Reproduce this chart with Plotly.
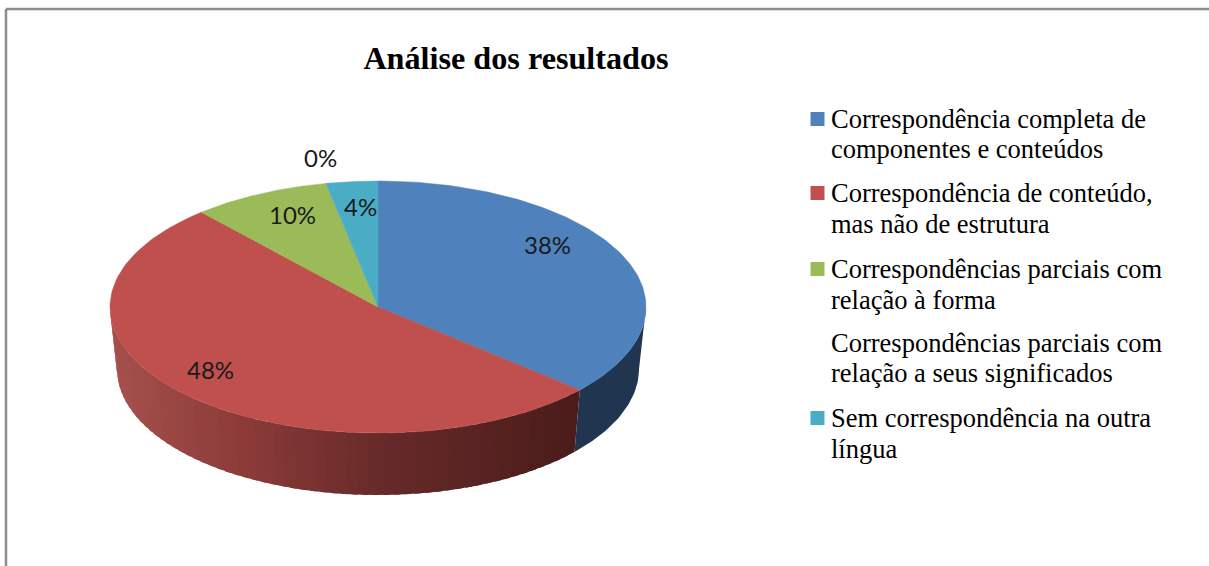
import numpy as np
import plotly.graph_objects as go

title = "Análise dos resultados"
categories = [
    "Correspondência completa de<br>componentes e conteúdos",
    "Correspondência de conteúdo,<br>mas não de estrutura",
    "Correspondências parciais com<br>relação à forma",
    "Correspondências parciais com<br>relação a seus significados",
    "Sem correspondência na outra<br>língua",
]
values = [38.4, 48.2, 9.7, 0, 3.7]
colors = ["#4F81BD", "#C0504D", "#9BBB59", "rgba(0,0,0,0)", "#4BACC6"]

# projection of the tilted pie on the page (pixels)
W, H = 1209, 566
CX, CY, RX, RY = 378, 307, 268, 126
BCY, BRX, BRY = 369, 261, 126
PERSPECTIVE = 0.84
label_xy = [(547, 244), (210, 369), (292, 214), (320, 157), (360, 206)]
legend_marker_x = 817.5
legend_text_x = 829
legend_rows = [(119, 149), (193, 224), (269, 300), (343, 373), (418, 449)]


def warp(share):
    half = np.asarray(share) * np.pi / 100
    return 2 * np.arctan2(PERSPECTIVE * np.sin(half), np.cos(half))


def top_pt(phi):
    return CX + RX * np.sin(phi), CY - RY * np.cos(phi)


def bottom_pt(phi):
    return CX + BRX * np.sin(phi), BCY - BRY * np.cos(phi)


def wall_colour(x, slice_idx):
    if slice_idx == 0:
        return "#1F3550"
    stops_x = [117, 250, 378, 573]
    r = np.interp(x, stops_x, [165, 138, 102, 74])
    g = np.interp(x, stops_x, [80, 58, 42, 28])
    b = np.interp(x, stops_x, [76, 56, 41, 26])
    return f"rgb({r:.0f},{g:.0f},{b:.0f})"


fig = go.Figure()
cum = np.concatenate([[0], np.cumsum(values)])
edges = warp(cum)

# side wall (front half only); each band overlaps its neighbour to hide seams
bands = np.linspace(edges[1], 3 * np.pi / 2, 61)
for a0, a1 in zip(bands[:-1], bands[1:]):
    a_end = min(a1 + (a1 - a0) * 0.6, 3 * np.pi / 2)
    phi = np.linspace(a0, a_end, 6)
    tx, ty = top_pt(phi)
    bx, by = bottom_pt(phi)
    col = wall_colour(bx.mean(), 1)
    fig.add_trace(go.Scatter(
        x=np.r_[tx, bx[::-1], tx[0]], y=np.r_[ty, by[::-1], ty[0]],
        mode="lines", fill="toself", fillcolor=col,
        line=dict(color=col, width=0), hoverinfo="skip", showlegend=False))

# the blue wall runs from the rim's right end to the slice edge
phi = np.linspace(np.pi / 2, edges[1], 40)
tx, ty = top_pt(phi)
bx, by = bottom_pt(phi)
fig.add_trace(go.Scatter(
    x=np.r_[tx, bx[::-1], tx[0]], y=np.r_[ty, by[::-1], ty[0]],
    mode="lines", fill="toself", fillcolor=wall_colour(0, 0),
    line=dict(color=wall_colour(0, 0), width=0), hoverinfo="skip", showlegend=False))

# top face slices
for i, v in enumerate(values):
    if v == 0:
        continue
    phi = np.linspace(edges[i], edges[i + 1], 120)
    ex, ey = top_pt(phi)
    fig.add_trace(go.Scatter(
        x=np.r_[CX, ex, CX], y=np.r_[CY, ey, CY],
        mode="lines", fill="toself", fillcolor=colors[i],
        line=dict(color=colors[i], width=0.5),
        name=categories[i].replace("<br>", " "), text=f"{round(v)}%", hoverinfo="name+text",
        showlegend=False))

# legend keys
fig.add_trace(go.Scatter(
    x=[legend_marker_x] * len(categories), y=[r[0] for r in legend_rows],
    mode="markers", marker=dict(symbol="square", size=14, color=colors),
    hoverinfo="skip", showlegend=False))

annotations = [
    dict(x=px, y=py, text=f"{round(v)}%", showarrow=False, xref="x", yref="y",
         font=dict(family="Lato, Carlito, sans-serif", size=24, color="#1a1a1a"))
    for v, (px, py) in zip(values, label_xy)
]
for name, rows in zip(categories, legend_rows):
    for line, y in zip(name.split("<br>"), rows):
        annotations.append(dict(
            x=legend_text_x, y=y, text=line, showarrow=False, xref="x", yref="y",
            xanchor="left", yanchor="middle",
            font=dict(family="Liberation Serif", size=26.5, color="#000000")))

frame = dict(type="line", xref="x", yref="y", line=dict(color="#8C8C8C", width=2.5))
fig.update_layout(
    width=W, height=H, autosize=False,
    margin=dict(l=0, r=0, t=0, b=0),
    paper_bgcolor="white", plot_bgcolor="white",
    title=dict(text=f"<b>{title}</b>", x=516 / W, xanchor="center", y=1 - 58 / H, yanchor="middle",
               font=dict(family="Liberation Serif", size=32.2, color="#000000")),
    xaxis=dict(range=[0, W], visible=False, fixedrange=True),
    yaxis=dict(range=[H, 0], visible=False, fixedrange=True),
    shapes=[dict(frame, x0=6, y0=9, x1=W, y1=9), dict(frame, x0=6, y0=9, x1=6, y1=H)],
    annotations=annotations,
    showlegend=False,
)
fig.write_html("out.html", config=dict(displayModeBar=False),
               post_script="document.body.style.margin='0';document.documentElement.style.overflow='hidden';")
